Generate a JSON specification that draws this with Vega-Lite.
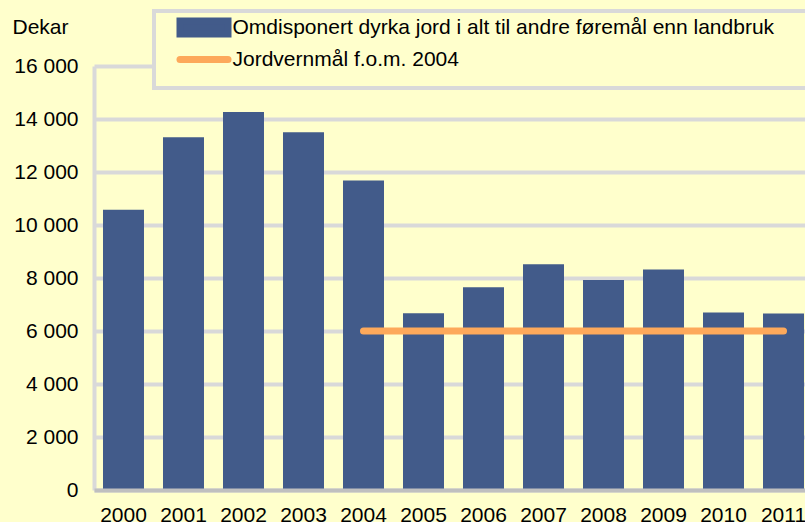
{
  "$schema": "https://vega.github.io/schema/vega-lite/v6.json",
  "width": 711,
  "height": 424,
  "autosize": {"type": "none"},
  "padding": {"left": 94, "top": 66, "right": 0, "bottom": 32},
  "background": "#FFFFCC",
  "config": {"view": {"stroke": null}, "font": "Liberation Sans"},
  "data": {
    "values": [
      {"aar": "2000", "dekar": 10580, "maal": null},
      {"aar": "2001", "dekar": 13310, "maal": null},
      {"aar": "2002", "dekar": 14260, "maal": null},
      {"aar": "2003", "dekar": 13500, "maal": null},
      {"aar": "2004", "dekar": 11680, "maal": 6000},
      {"aar": "2005", "dekar": 6670, "maal": 6000},
      {"aar": "2006", "dekar": 7650, "maal": 6000},
      {"aar": "2007", "dekar": 8520, "maal": 6000},
      {"aar": "2008", "dekar": 7920, "maal": 6000},
      {"aar": "2009", "dekar": 8320, "maal": 6000},
      {"aar": "2010", "dekar": 6700, "maal": 6000},
      {"aar": "2011", "dekar": 6660, "maal": 6000}
    ]
  },
  "encoding": {
    "x": {
      "field": "aar",
      "type": "ordinal",
      "scale": {"paddingInner": 0.3167, "paddingOuter": 0.0833, "align": 0.9},
      "axis": {
        "title": null,
        "labelAngle": 0,
        "labelFontSize": 21,
        "labelColor": "#000000",
        "labelFont": "Liberation Sans",
        "labelPadding": 14,
        "ticks": false,
        "tickSize": 0,
        "domainColor": "#BFBFBF",
        "domainWidth": 4,
        "grid": false,
        "zindex": 1,
        "labelOverlap": false
      }
    }
  },
  "layer": [
    {
      "mark": {"type": "bar"},
      "encoding": {
        "y": {
          "field": "dekar",
          "type": "quantitative",
          "title": "Dekar",
          "scale": {"domain": [0, 16000]},
          "axis": {
            "title": "Dekar",
            "titleAngle": 0,
            "titleX": -82,
            "titleY": -39,
            "titleAlign": "left",
            "titleBaseline": "middle",
            "titleFontSize": 21,
            "titleFontWeight": "normal",
            "titleColor": "#000000",
            "titleFont": "Liberation Sans",
            "values": [0, 2000, 4000, 6000, 8000, 10000, 12000, 14000, 16000],
            "labelExpr": "replace(format(datum.value, ',d'), ',', ' ')",
            "labelFontSize": 21,
            "labelColor": "#000000",
            "labelFont": "Liberation Sans",
            "labelPadding": 16,
            "ticks": false,
            "tickSize": 0,
            "domainColor": "#D9D9D9",
            "domainWidth": 4,
            "gridColor": "#D9D9D9",
            "gridWidth": 4,
            "labelOverlap": false
          }
        },
        "color": {
          "datum": "Omdisponert dyrka jord i alt til andre føremål enn landbruk",
          "scale": {
            "domain": ["Omdisponert dyrka jord i alt til andre føremål enn landbruk", "Jordvernmål f.o.m. 2004"],
            "range": ["#425B8A", "#FDA95B"]
          },
          "legend": {
            "orient": "none",
            "legendX": 60,
            "legendY": -55,
            "title": " ",
            "titleOrient": "bottom",
            "titleFontSize": 8,
            "titlePadding": 0,
            "padding": 6,
            "rowPadding": -7.5,
            "symbolOffset": 33.5,
            "labelOffset": 18,
            "labelFontSize": 21,
            "labelColor": "#000000",
            "labelFont": "Liberation Sans",
            "labelLimit": 700,
            "symbolSize": 196,
            "symbolStrokeWidth": 7,
            "symbolType": "M-3.4286,-0.9286H3.4286V0.9286H-3.4286Z",
            "fillColor": "#FFFFCC",
            "strokeColor": "#D9D9D9",
            "encode": {
              "legend": {"update": {"strokeWidth": {"value": 4}}},
              "symbols": {
                "update": {
                  "shape": {"signal": "datum.value === 'Jordvernmål f.o.m. 2004' ? 'M-3.4286,0H3.4286' : 'M-3.4286,-0.9286H3.4286V0.9286H-3.4286ZM90,0'"},
                  "fill": {"signal": "datum.value === 'Jordvernmål f.o.m. 2004' ? 'transparent' : '#425B8A'"},
                  "stroke": {"signal": "datum.value === 'Jordvernmål f.o.m. 2004' ? '#FDA95B' : null"},
                  "strokeCap": {"value": "round"},
                  "opacity": {"value": 1}
                }
              }
            }
          }
        }
      }
    },
    {
      "mark": {"type": "line", "strokeWidth": 7, "strokeCap": "round"},
      "transform": [{"filter": "datum.maal != null"}],
      "encoding": {
        "y": {"field": "maal", "type": "quantitative", "title": "Dekar"},
        "color": {"datum": "Jordvernmål f.o.m. 2004"}
      }
    }
  ]
}
